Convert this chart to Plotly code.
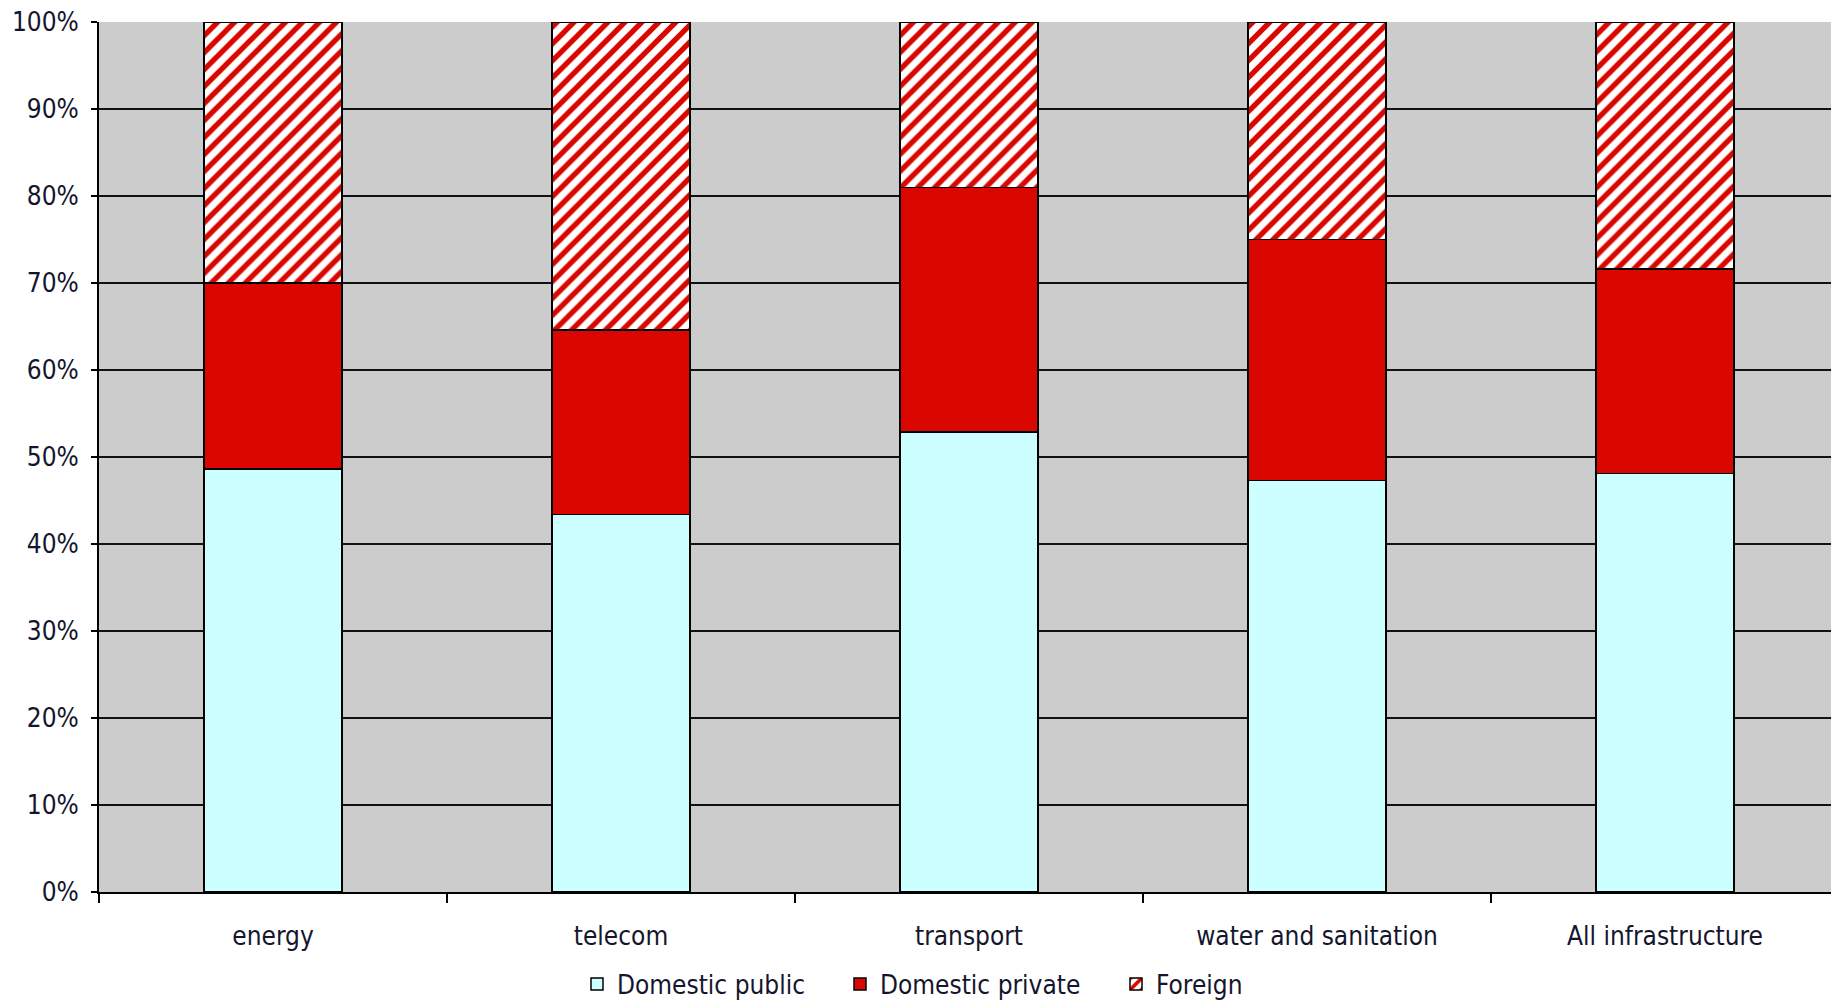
import plotly.graph_objects as go

categories = ["energy", "telecom", "transport", "water and sanitation", "All infrastructure"]
domestic_public = [0.486, 0.434, 0.529, 0.473, 0.481]
domestic_private = [0.214, 0.212, 0.281, 0.277, 0.235]
foreign = [0.300, 0.354, 0.190, 0.250, 0.284]
y_ticks = [i / 10 for i in range(11)]

FONT = "DejaVu Sans Condensed, DejaVu Sans, sans-serif"
TXT = "#15152e"
RED = "#da0600"
CYAN = "#ccffff"

W, H = 1831, 1003
L, T, B = 99, 22, 111
PLOT_W = W - L
CAT_W = 348

fig = go.Figure()
fig.add_trace(go.Bar(
    name="Domestic public", x=categories, y=domestic_public,
    marker=dict(color=CYAN, line=dict(color="black", width=1.5)),
    width=0.397, legend="legend",
))
fig.add_trace(go.Bar(
    name="Domestic private", x=categories, y=domestic_private,
    marker=dict(color=RED, line=dict(color="black", width=1.5)),
    width=0.397, legend="legend2",
))
fig.add_trace(go.Bar(
    name="Foreign", x=categories, y=foreign,
    marker=dict(color="white", line=dict(color="black", width=1.5),
                pattern=dict(shape="/", fgcolor=RED, bgcolor="white",
                             size=12, solidity=0.45, fillmode="replace")),
    width=0.397, legend="legend3",
))


def leg(px):
    return dict(orientation="h", x=(px - L) / PLOT_W, xanchor="left", xref="paper",
                y=1 - 984 / H, yanchor="middle", yref="container",
                font=dict(family=FONT, size=26, color=TXT),
                bgcolor="rgba(0,0,0,0)", itemwidth=30)


fig.update_layout(
    barmode="stack",
    width=W, height=H,
    margin=dict(l=L, r=0, t=T, b=B, autoexpand=False),
    paper_bgcolor="white",
    plot_bgcolor="#cccccc",
    font=dict(family=FONT, size=26, color=TXT),
    showlegend=True,
    legend=leg(619 - 42),
    legend2=leg(882 - 42),
    legend3=leg(1158 - 42),
    xaxis=dict(
        type="category", range=[-0.5, -0.5 + PLOT_W / CAT_W],
        showline=True, linecolor="black", linewidth=2,
        ticks="outside", tickson="boundaries", ticklen=9, tickcolor="black", tickwidth=2,
        showgrid=False, ticklabelstandoff=20,
        tickfont=dict(family=FONT, size=26, color=TXT),
    ),
    yaxis=dict(
        range=[0, 1], tickvals=y_ticks, tickformat=".0%",
        showline=True, linecolor="black", linewidth=2,
        ticks="outside", ticklen=6, tickcolor="black", tickwidth=2,
        showgrid=True, gridcolor="#111111", gridwidth=2,
        zeroline=False, ticklabelstandoff=7,
        tickfont=dict(family=FONT, size=26, color=TXT),
    ),
)

fig.write_html("out.html",
               config={"displayModeBar": False},
               post_script="document.body.style.margin='0';document.body.style.overflow='hidden';")
